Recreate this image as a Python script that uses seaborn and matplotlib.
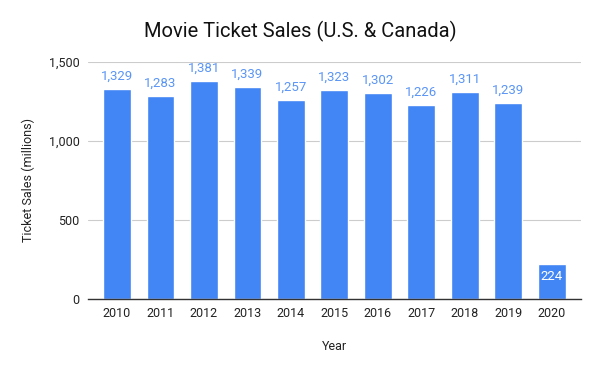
import matplotlib
matplotlib.use("Agg")
import matplotlib.pyplot as plt
import seaborn as sns
import pandas as pd
from matplotlib.ticker import FuncFormatter

years = ["2010", "2011", "2012", "2013", "2014", "2015", "2016", "2017", "2018", "2019", "2020"]
sales = [1329, 1283, 1381, 1339, 1257, 1323, 1302, 1226, 1311, 1239, 224]
yticks = [0, 500, 1000, 1500]

sns.set_theme(style="white")
plt.rcParams['font.family'] = ['Roboto', 'DejaVu Sans']

df = pd.DataFrame({"Year": years, "Sales": sales})
blue = "#4285F4"

fig = plt.figure(figsize=(6, 3.71), dpi=100)
ax = fig.add_axes([0.1467, 0.194, 0.8213, 0.639])
sns.barplot(data=df, x="Year", y="Sales", color=blue, width=0.64, saturation=1, ax=ax)

ax.set_xlim(-0.667, 10.667)
ax.set_ylim(0, 1500)
ax.set_yticks(yticks)
ax.yaxis.set_major_formatter(FuncFormatter(lambda v, p: f"{int(v):,}"))
ax.grid(axis="y", color="#cccccc", linewidth=0.8)
ax.set_axisbelow(True)
for s in ["top", "right", "left"]:
    ax.spines[s].set_visible(False)
ax.spines["bottom"].set_color("#333333")
ax.spines["bottom"].set_linewidth(1)
ax.tick_params(axis="both", length=0, labelsize=9, colors="#222222", pad=6)

for i, v in enumerate(sales):
    if v < 400:
        ax.text(i, v - 40, f"{v:,}", ha="center", va="top", fontsize=9.5, color="white")
    else:
        ax.text(i, v + 40, f"{v:,}", ha="center", va="bottom", fontsize=9.5, color="#5a95f5", clip_on=False)

ax.set_xlabel("Year", fontsize=9, color="#222222", labelpad=14)
ax.set_ylabel("Ticket Sales (millions)", fontsize=9, color="#222222", labelpad=10)
fig.text(0.5, 0.915, "Movie Ticket Sales (U.S. & Canada)", ha="center", va="center", fontsize=14.5, color="#111111")

fig.savefig("out.png", dpi=100)
